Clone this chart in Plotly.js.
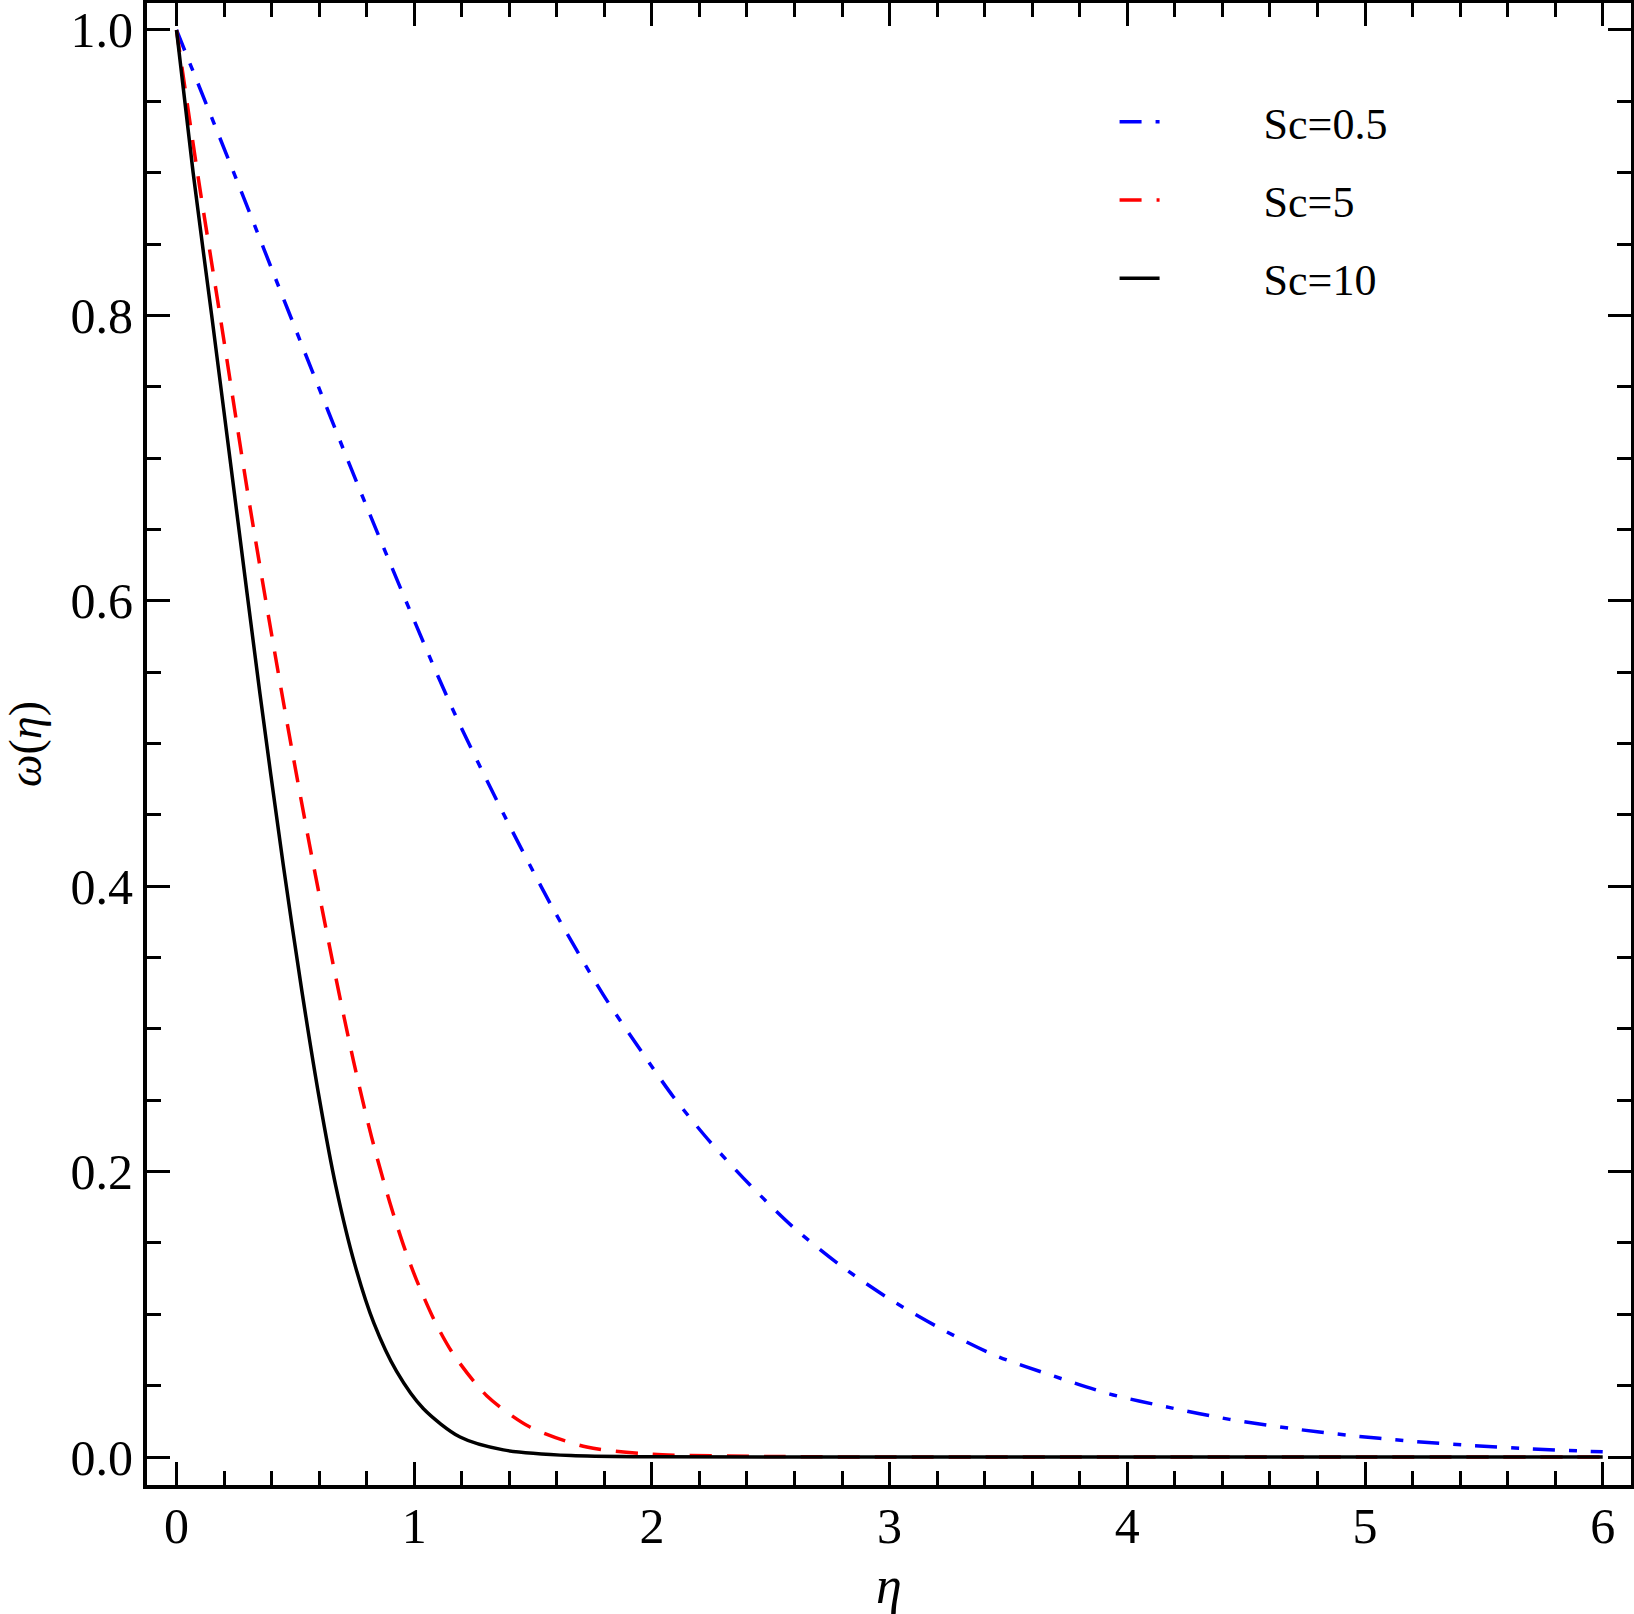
<!DOCTYPE html>
<html>
<head>
<meta charset="utf-8">
<script src="https://cdn.plot.ly/plotly-3.0.1.min.js"></script>
<style>
  html, body { margin: 0; padding: 0; background: #fff; }
  #plot { width: 1634px; height: 1614px; }
</style>
</head>
<body>
<div id="plot"></div>
<script>
// values
var etaLow = [0, 0.036, 0.253, 0.466, 0.80, 1.151, 1.375, 1.585, 1.795, 1.957, 2.09, 2.244, 2.413,
              2.595, 2.791, 3.002, 3.226, 3.45, 3.689, 3.927, 4.18, 4.43, 4.684, 4.933, 5.187,
              5.44, 5.69, 5.94, 6.0];
var omegaSc05 = [1.0, 0.985, 0.895, 0.805, 0.666, 0.528, 0.451, 0.384, 0.324, 0.284, 0.2525, 0.221, 0.1906,
                 0.161, 0.1345, 0.1105, 0.089, 0.0708, 0.0568, 0.0441, 0.0346, 0.0264, 0.0201, 0.0152, 0.0112,
                 0.0082, 0.0058, 0.004, 0.0037];

var etaMid = [0, 0.09, 0.183, 0.309, 0.454, 0.562, 0.674, 0.744, 0.821, 0.898, 0.96, 1.01, 1.09,
              1.165, 1.305, 1.487, 1.726, 2.0, 2.5, 3.0, 4.0, 5.0, 6.0];
var omegaSc5 = [1.0, 0.898, 0.80, 0.666, 0.525, 0.427, 0.333, 0.278, 0.224, 0.178, 0.146, 0.124, 0.094,
                0.072, 0.043, 0.021, 0.007, 0.002, 0.0004, 0, 0, 0, 0];

var etaHigh = [0, 0.07, 0.148, 0.246, 0.351, 0.449, 0.527, 0.60, 0.67, 0.75, 0.83, 0.926, 1.038,
               1.193, 1.375, 1.66, 2.0, 3.0, 4.0, 5.0, 6.0];
var omegaSc10 = [1.0, 0.90, 0.80, 0.672, 0.535, 0.415, 0.327, 0.252, 0.19, 0.135, 0.094, 0.060, 0.034,
                 0.014, 0.005, 0.001, 0.0002, 0, 0, 0, 0];

var seriesNames = ["Sc=0.5", "Sc=5", "Sc=10"];

var serif = "'Liberation Serif', 'Times New Roman', serif";
// spacer so the legend text sits well right of the short line sample
var gap = "\u00a0\u00a0\u00a0\u00a0\u00a0\u00a0\u00a0\u00a0\u00a0";

var trace1 = {
    x: etaLow, y: omegaSc05, type: "scatter", mode: "lines",
    name: gap + seriesNames[0], legendgroup: "a",
    line: { color: "#0000ff", width: 3.5, dash: "22px,14px,8px,14px", shape: "spline", smoothing: 0.8 }
};
var trace2 = {
    x: etaMid, y: omegaSc5, type: "scatter", mode: "lines",
    name: gap + seriesNames[1], legendgroup: "b",
    line: { color: "#ff0000", width: 3.5, dash: "22px,15px", shape: "spline", smoothing: 0.8 }
};
var trace3 = {
    x: etaHigh, y: omegaSc10, type: "scatter", mode: "lines",
    name: gap + seriesNames[2], legendgroup: "c",
    line: { color: "#000000", width: 3.5, shape: "spline", smoothing: 0.8 }
};

var axisCommon = {
    showgrid: false, zeroline: false,
    showline: true, linecolor: "black", linewidth: 4,
    mirror: "allticks",
    ticks: "inside", ticklen: 23, tickwidth: 3, tickcolor: "black",
    tickfont: { family: serif, size: 50, color: "black" }
};

var layout = {
    width: 1634, height: 1614,
    margin: { l: 147, r: 3, t: 3, b: 129 },
    paper_bgcolor: "white", plot_bgcolor: "white",
    showlegend: true,
    legend: {
        x: 0.652, y: 0.9435, xanchor: "left", yanchor: "top",
        bgcolor: "rgba(0,0,0,0)",
        font: { family: serif, size: 44, color: "black" },
        itemwidth: 40, tracegroupgap: 18, traceorder: "grouped"
    },
    xaxis: Object.assign({}, axisCommon, {
        range: [-0.1241, 6.119], tick0: 0, dtick: 1,
        ticklabelstandoff: -6,
        minor: { ticks: "inside", ticklen: 14, tickwidth: 3, tickcolor: "black", dtick: 0.2 },
        title: { text: "<i>η</i>", font: { family: serif, size: 52, color: "black" }, standoff: 28 }
    }),
    yaxis: Object.assign({}, axisCommon, {
        range: [-0.0196, 1.0189], tick0: 0, dtick: 0.2, tickformat: ".1f",
        ticklabelstandoff: 0,
        minor: { ticks: "inside", ticklen: 14, tickwidth: 3, tickcolor: "black", dtick: 0.05 },
        title: { text: "<i>ω</i>(<i>η</i>)", font: { family: serif, size: 46, color: "black" }, standoff: 36 }
    })
};

Plotly.newPlot("plot", [trace1, trace2, trace3], layout, { staticPlot: true });
</script>
</body>
</html>
